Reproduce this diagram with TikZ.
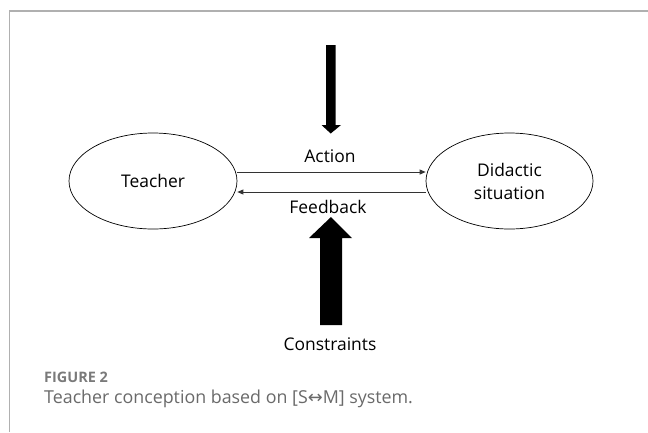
\documentclass[tikz,border=0pt]{standalone}
\usepackage{fontspec}
\setmainfont{Open Sans}
\usetikzlibrary{shapes.geometric,arrows.meta}
\definecolor{framegray}{HTML}{B0B0B0}
\definecolor{capgray}{HTML}{7A7A7A}
\definecolor{captext}{HTML}{6A6A6A}
\tikzset{
  box/.style={draw=black, line width=0.7bp, ellipse, inner sep=0pt, minimum width=168bp, minimum height=96bp, font=\fontsize{17.5}{23}\selectfont, align=center},
  lbl/.style={font=\fontsize{17.5}{22}\selectfont, inner sep=0pt},
  thin arrow/.style={draw=black!80, line width=0.8bp, -{Triangle[length=6bp,width=5bp]}},
  bigarrow/.style={fill=black},
}
\begin{document}
\begin{tikzpicture}[x=1bp,y=-1bp]
\useasboundingbox (0,0) rectangle (648,432);
\fill[white] (0,0) rectangle (648,432);
% frame
\draw[framegray, line width=1.5bp] (9.5,432) -- (9.5,11) -- (648,11);
% nodes
\node[box] (teacher) at (153,181) {Teacher};
\node[box, minimum width=167bp] (didactic) at (509.5,181) {Didactic\\situation};
% connectors
\draw[thin arrow] ([yshift=9bp]teacher.east) -- ([yshift=9bp]didactic.west);
\draw[thin arrow] ([yshift=-11bp]didactic.west) -- ([yshift=-11bp]teacher.east);
% labels
\node[lbl] (action) at (330,156) {Action};
\node[lbl] (feedback) at (328,207) {Feedback};
\node[lbl] (constraints) at (330,344) {Constraints};
% big arrows
\fill[bigarrow] (326,45) -- (335.5,45) -- (335.5,125) -- (341,125) -- (330.7,133.5) -- (321.5,125) -- (326,125) -- cycle;
\fill[bigarrow] (320,325) -- (342,325) -- (342,238) -- (352,238) -- (331,217) -- (309,238) -- (320,238) -- cycle;
% caption
\node[anchor=west, inner sep=0pt, text=capgray, font=\fontsize{14.5}{16}\selectfont\bfseries] (fig) at (44,377) {FIGURE 2};
\node[anchor=west, inner sep=0pt, text=captext, font=\fontsize{17.9}{21}\selectfont] (cap) at (44,399) {Teacher conception based on [S{\fontspec{DejaVu Sans}↔}M] system.};
\end{tikzpicture}
\end{document}
